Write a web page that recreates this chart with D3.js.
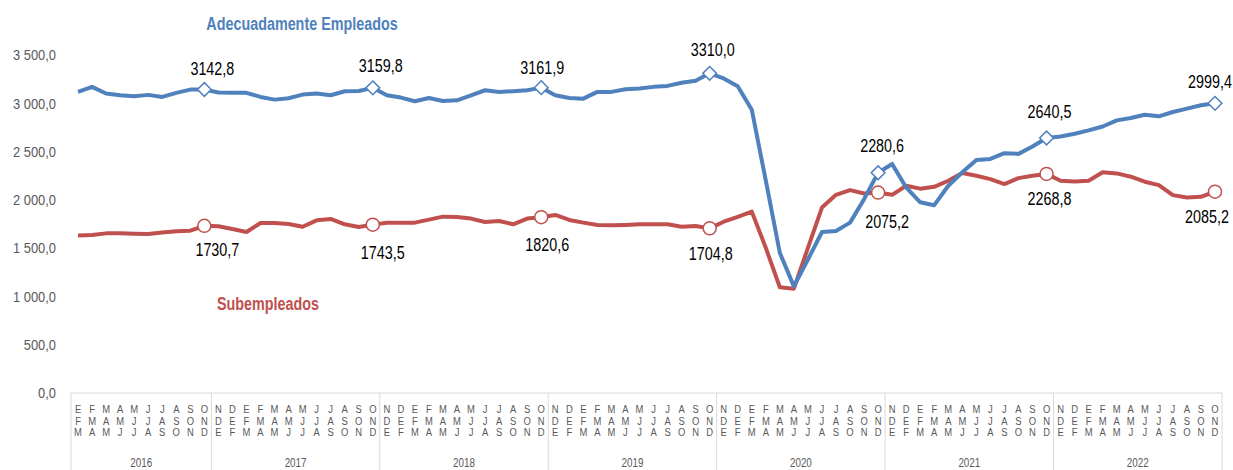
<!DOCTYPE html>
<html>
<head>
<meta charset="utf-8">
<script src="https://cdn.jsdelivr.net/npm/d3@7"></script>
<style>
  body { margin: 0; background: #fff; }
  svg { display: block; font-family: "Liberation Sans", Arial, sans-serif; }
</style>
</head>
<body>
<svg width="1233" height="470"></svg>
<script>
// month initials (Spanish), rolling quarters start at each month
const monthLetters = ["E", "F", "M", "A", "M", "J", "J", "A", "S", "O", "N", "D"];
const years = [2016, 2017, 2018, 2019, 2020, 2021, 2022];
const periodsPerYear = [10, 12, 12, 12, 12, 12, 12];

const yTicks = [0, 500, 1000, 1500, 2000, 2500, 3000, 3500];

// Adecuadamente Empleados (miles)
const empleados = [
  3118, 3170, 3101, 3083, 3073, 3087, 3066, 3108, 3142, 3142.8,
  3111, 3108, 3108, 3066, 3038, 3052, 3090, 3101, 3083, 3125, 3128, 3159.8,
  3083, 3059, 3021, 3055, 3024, 3031, 3083, 3135, 3118, 3125, 3135, 3161.9,
  3083, 3055, 3048, 3118, 3118, 3146, 3152, 3170, 3180, 3212, 3233, 3310.0,
  3257, 3177, 2934, 2198, 1451, 1104, 1382, 1667, 1677, 1764, 2007, 2280.6,
  2372, 2128, 1975, 1945, 2146, 2285, 2413, 2424, 2483, 2476, 2552, 2640.5,
  2656, 2684, 2719, 2760, 2823, 2847, 2882, 2865, 2910, 2945, 2979, 2999.4
];

// Subempleados (miles)
const subempleados = [
  1632, 1635, 1653, 1653, 1650, 1646, 1663, 1674, 1681, 1730.7,
  1726, 1698, 1667, 1760, 1760, 1750, 1722, 1788, 1802, 1747, 1719, 1743.5,
  1764, 1764, 1764, 1795, 1826, 1823, 1806, 1771, 1781, 1747, 1806, 1820.6,
  1844, 1792, 1764, 1740, 1736, 1740, 1747, 1747, 1747, 1722, 1729, 1704.8,
  1774, 1823, 1878, 1503, 1094, 1080, 1503, 1920, 2052, 2101, 2066, 2075.2,
  2052, 2146, 2116, 2135, 2198, 2278, 2250, 2215, 2163, 2225, 2250, 2268.8,
  2198, 2191, 2198, 2285, 2274, 2240, 2188, 2153, 2049, 2024, 2031, 2085.2
];

const blue = "#4f81bd", red = "#c0504d", grey = "#595959", rule = "#d9d9d9";
const squeeze = 0.82; // narrow look (Arial Narrow is ~82% of Arial)

const svg = d3.select("svg");
const left = 71, right = 1222, axisY = 393, topY = 55;

const idx = d3.range(empleados.length);
const x = d3.scaleBand().domain(idx).range([left, right]).padding(0);
const cx = i => x(i) + x.bandwidth() / 2;
const y = d3.scaleLinear().domain([0, 3500]).range([axisY, topY]);

const fmtTick = d3.formatLocale({ decimal: ",", thousands: " ", grouping: [3], currency: ["", ""] }).format(",.1f");
const fmtLabel = d3.formatLocale({ decimal: ",", thousands: "", grouping: [3], currency: ["", ""] }).format(".1f");

// put text at (px,py) and squeeze it horizontally
function narrow(sel, px, py) {
  return sel
    .attr("transform", (d, i) => `translate(${px(d, i)},${py(d, i)}) scale(${squeeze},1)`)
    .attr("dominant-baseline", "central");
}

// y axis (labels only)
svg.append("g")
  .attr("transform", `translate(${left},0)`)
  .call(d3.axisLeft(y).tickValues(yTicks).tickSize(0).tickPadding(15 / 0.86).tickFormat(fmtTick))
  .call(g => g.select(".domain").remove())
  .selectAll("text")
  .attr("transform", "scale(0.86,1)")
  .attr("fill", grey)
  .attr("font-family", "Liberation Sans, Arial, sans-serif")
  .attr("font-size", 15);

// category axis
svg.append("line")
  .attr("x1", left).attr("x2", right).attr("y1", axisY).attr("y2", axisY)
  .attr("stroke", rule);

let start = 0;
const yearBounds = [];
years.forEach((yr, k) => {
  yearBounds.push({ year: yr, from: start, to: start + periodsPerYear[k] - 1 });
  start += periodsPerYear[k];
});

const sepXs = [left].concat(yearBounds.map(b => x(b.to) + x.bandwidth()));
svg.append("g").selectAll("line").data(sepXs).join("line")
  .attr("x1", d => d).attr("x2", d => d)
  .attr("y1", axisY).attr("y2", 470)
  .attr("stroke", rule);

const letterRows = [409, 420.5, 432];
const monthG = svg.append("g")
  .attr("fill", grey).attr("font-size", 11.5).attr("text-anchor", "middle");
letterRows.forEach((ry, k) => {
  monthG.append("g").selectAll("text").data(idx).join("text")
    .call(narrow, i => cx(i), () => ry)
    .text(i => monthLetters[(i + k) % 12]);
});

svg.append("g").selectAll("text").data(yearBounds).join("text")
  .call(narrow, b => (x(b.from) + x(b.to) + x.bandwidth()) / 2, () => 463)
  .attr("text-anchor", "middle")
  .attr("fill", grey).attr("font-size", 12)
  .text(b => b.year);

// lines
const line = d3.line().x((d, i) => cx(i)).y(d => y(d));
[[subempleados, red], [empleados, blue]].forEach(([vals, col]) => {
  svg.append("path")
    .datum(vals)
    .attr("d", line)
    .attr("fill", "none")
    .attr("stroke", col)
    .attr("stroke-width", 4)
    .attr("stroke-linejoin", "round");
});

// October markers and labels
const marked = yearBounds.map(b => b.to);
const blueOff = [[8, -21], [8, -22], [1, -20], [3, -23], [4, -27], [3, -26], [-5, -21]];
const redOff = [[13, 24], [10, 28], [6, 28], [1, 26], [9, 29], [3, 25], [-8, 25]];

svg.append("g").selectAll("path").data(marked).join("path")
  .attr("d", d3.symbol(d3.symbolDiamond2, 120))
  .attr("transform", i => `translate(${cx(i)},${y(empleados[i])})`)
  .attr("fill", "#fff").attr("stroke", blue).attr("stroke-width", 1.5);

svg.append("g").selectAll("circle").data(marked).join("circle")
  .attr("cx", cx).attr("cy", i => y(subempleados[i])).attr("r", 6.5)
  .attr("fill", "#fff").attr("stroke", red).attr("stroke-width", 1.5);

svg.append("g").selectAll("text").data(marked).join("text")
  .call(narrow, (i, k) => cx(i) + blueOff[k][0], (i, k) => y(empleados[i]) + blueOff[k][1])
  .attr("text-anchor", "middle")
  .attr("font-size", 17.5).attr("fill", "#000")
  .text(i => fmtLabel(empleados[i]));

svg.append("g").selectAll("text").data(marked).join("text")
  .call(narrow, (i, k) => cx(i) + redOff[k][0], (i, k) => y(subempleados[i]) + redOff[k][1])
  .attr("text-anchor", "middle")
  .attr("font-size", 17.5).attr("fill", "#000")
  .text(i => fmtLabel(subempleados[i]));

// series titles
svg.append("text")
  .call(narrow, () => 302, () => 24)
  .attr("text-anchor", "middle")
  .attr("font-size", 17.5).attr("font-weight", "bold").attr("fill", blue)
  .text("Adecuadamente Empleados");

svg.append("text")
  .call(narrow, () => 268, () => 304)
  .attr("text-anchor", "middle")
  .attr("font-size", 17.5).attr("font-weight", "bold").attr("fill", red)
  .text("Subempleados");
</script>
</body>
</html>
